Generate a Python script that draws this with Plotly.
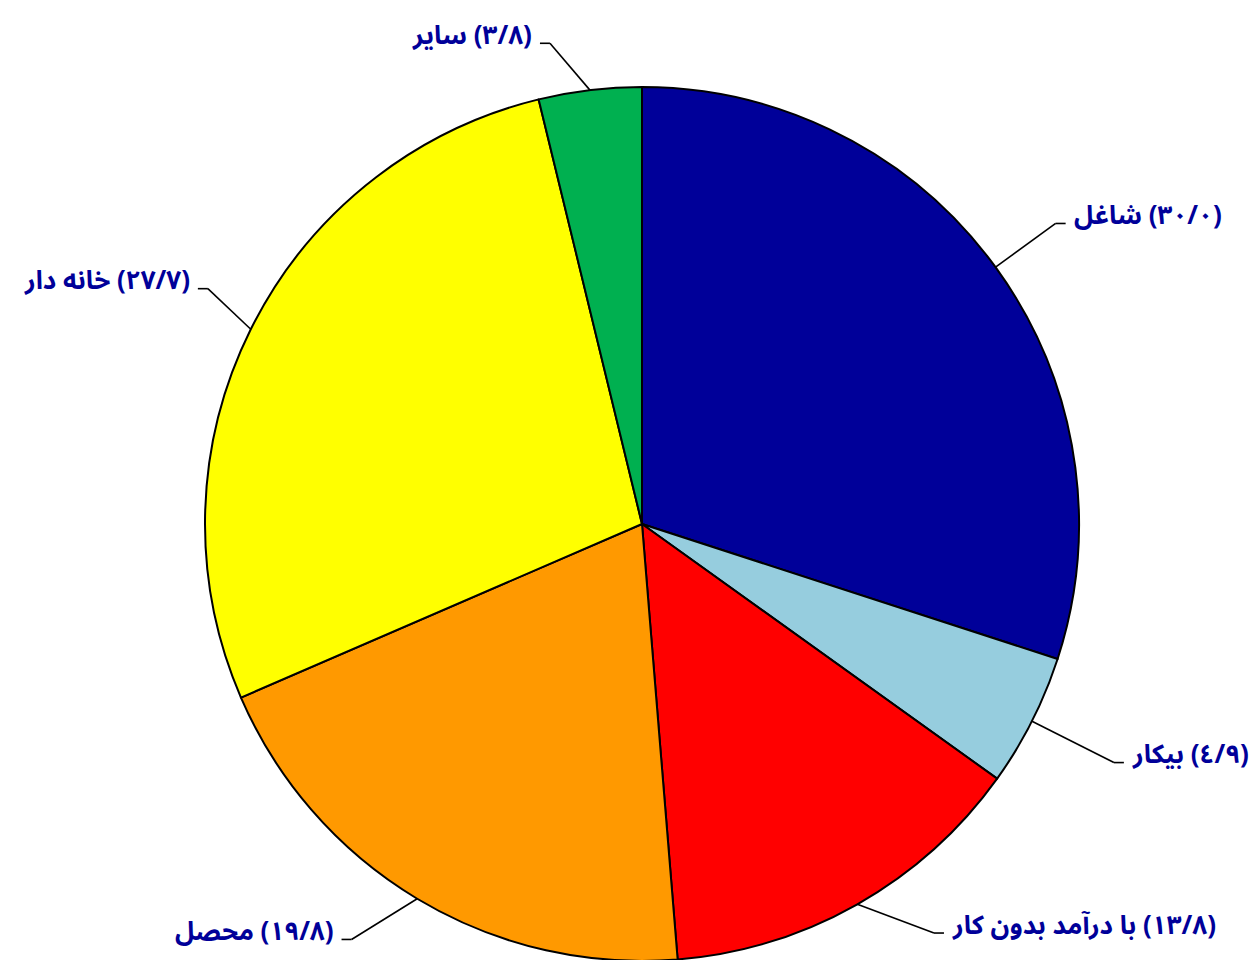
import math
import plotly.graph_objects as go

# ---- data ----
categories = ["شاغل", "بیکار", "با درآمد بدون کار", "محصل", "خانه دار", "سایر"]
values = [30.0, 4.9, 13.8, 19.8, 27.7, 3.8]
colors = ["#000099", "#96CDDE", "#FF0000", "#FF9900", "#FFFF00", "#00B050"]

# ---- layout / style constants ----
W, H = 1260, 960
OFF = 8  # page body margin
cx, cy, R = 642 - OFF, 524 - OFF, 437
label_color = "#000099"
font_family = "Noto Sans Arabic, DejaVu Sans, sans-serif"
# leader-line elbow placement relative to each slice's mid angle
elbow_angle_nudge = [0, 0, -6, 4, 2, -4]          # degrees
elbow_radius_factor = [1.17, 1.21, 1.15, 1.16, 1.13, 1.12]

AR_DIGITS = "٠١٢٣٤٥٦٧٨٩"


def fa_num(v):
    s = f"{v:.1f}"
    return "".join(AR_DIGITS[int(c)] if c.isdigit() else "/" for c in s)


def px(x):
    return x / W


def py(y):
    return 1 - y / H


fig = go.Figure(
    go.Pie(
        labels=categories,
        values=values,
        sort=False,
        direction="clockwise",
        rotation=0,
        marker=dict(colors=colors, line=dict(color="black", width=2)),
        textinfo="none",
        hoverinfo="label+value",
        showlegend=False,
        domain=dict(x=[(cx - R - 10) / W, (cx + R + 10) / W],
                    y=[1 - (cy + R) / H, 1 - (cy - R) / H]),
    )
)

total = sum(values)
cum = 0.0
shapes = []
annotations = []
for i, (name, v) in enumerate(zip(categories, values)):
    theta = math.radians(360 * (cum + v / 2) / total)
    cum += v
    sx, sy = cx + R * math.sin(theta), cy - R * math.cos(theta)
    th2 = theta + math.radians(elbow_angle_nudge[i])
    re = elbow_radius_factor[i] * R
    ex = cx + re * math.sin(th2)
    ey = cy - re * math.cos(th2)
    sign = 1 if math.sin(theta) >= 0 else -1
    tx = ex + 10 * sign
    shapes.append(dict(type="line", xref="paper", yref="paper",
                       x0=px(sx), y0=py(sy), x1=px(ex), y1=py(ey),
                       line=dict(color="black", width=1.6)))
    shapes.append(dict(type="line", xref="paper", yref="paper",
                       x0=px(ex), y0=py(ey), x1=px(tx), y1=py(ey),
                       line=dict(color="black", width=1.6)))
    text = "\u200f(" + fa_num(v) + ") " + name + "\u200f"
    annotations.append(dict(
        xref="paper", yref="paper",
        x=px(tx + 7 * sign), y=py(ey - 8),
        xanchor="left" if sign > 0 else "right", yanchor="middle",
        text=text, showarrow=False, borderpad=0,
        font=dict(family=font_family, size=26, color=label_color, weight="bold"),
    ))

fig.update_layout(
    width=W, height=H,
    margin=dict(l=0, r=0, t=0, b=0),
    paper_bgcolor="white", plot_bgcolor="white",
    shapes=shapes, annotations=annotations,
)

fig.write_html("out.html")
